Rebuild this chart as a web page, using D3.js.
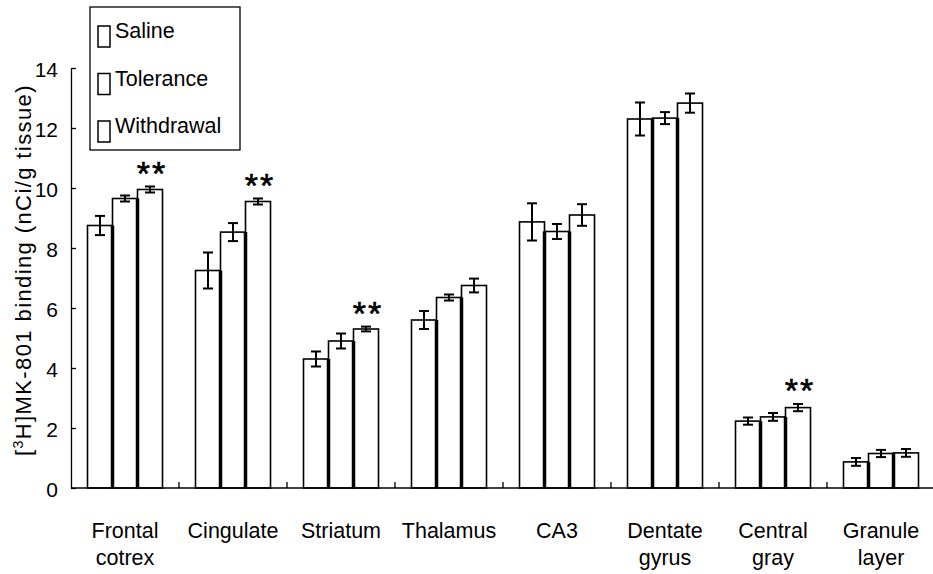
<!DOCTYPE html>
<html>
<head>
<meta charset="utf-8">
<script src="https://cdn.jsdelivr.net/npm/d3@7"></script>
<style>
  body { margin: 0; background: #fff; }
  svg { display: block; font-family: "Liberation Sans", Arial, sans-serif; }
</style>
</head>
<body>
<svg id="chart" width="933" height="574"></svg>
<script>
var categories = ["Frontal cotrex", "Cingulate", "Striatum", "Thalamus", "CA3", "Dentate gyrus", "Central gray", "Granule layer"];
var seriesNames = ["Saline", "Tolerance", "Withdrawal"];

var saline       = [8.75, 7.25, 4.30, 5.60, 8.87, 12.30, 2.23, 0.87];
var salineErr    = [0.32, 0.60, 0.25, 0.30, 0.62, 0.55, 0.12, 0.13];
var tolerance    = [9.65, 8.53, 4.90, 6.35, 8.55, 12.33, 2.37, 1.15];
var toleranceErr = [0.10, 0.30, 0.25, 0.10, 0.25, 0.20, 0.13, 0.12];
var withdrawal   = [9.95, 9.55, 5.30, 6.75, 9.10, 12.83, 2.68, 1.17];
var withdrawalErr = [0.10, 0.10, 0.08, 0.23, 0.36, 0.32, 0.12, 0.13];
// ** = withdrawal significantly different
var significant  = [true, true, true, false, false, false, true, false];

var yTicks = [0, 2, 4, 6, 8, 10, 12, 14];

var values = [saline, tolerance, withdrawal];
var errors = [salineErr, toleranceErr, withdrawalErr];

var svg = d3.select("#chart");

var x0 = d3.scaleBand().domain(categories).range([71, 935]).padding(0);
var x1 = d3.scaleBand().domain(seriesNames).range([0, 75]).padding(0);
var groupOffset = (x0.bandwidth() - 75) / 2;
var y = d3.scaleLinear().domain([0, 14]).range([488, 68]);

var rows = [];
categories.forEach(function(c, i) {
  seriesNames.forEach(function(s, j) {
    rows.push({ cat: c, ser: s, j: j, v: values[j][i], e: errors[j][i], sig: j === 2 && significant[i] });
  });
});

function barX(d) { return x0(d.cat) + groupOffset + x1(d.ser); }

// bars
svg.append("g").selectAll("rect")
  .data(rows).enter()
  .append("rect")
  .attr("x", barX)
  .attr("y", function(d) { return y(d.v); })
  .attr("width", x1.bandwidth())
  .attr("height", function(d) { return y(0) - y(d.v); })
  .attr("fill", "#fff")
  .attr("stroke", "#000")
  .attr("stroke-width", 1.6);

// heavy shared edges between neighbouring bars
svg.append("g").selectAll("line")
  .data(rows.filter(function(d) { return d.j > 0; })).enter()
  .append("line")
  .attr("x1", barX).attr("x2", barX)
  .attr("y1", function(d) { return y(Math.min(d.v, values[d.j - 1][categories.indexOf(d.cat)])); })
  .attr("y2", y(0))
  .attr("stroke", "#000")
  .attr("stroke-width", 3.5);

// error bars
var eb = svg.append("g").attr("stroke", "#000").attr("stroke-width", 2);
rows.forEach(function(d) {
  var cx = barX(d) + x1.bandwidth() / 2;
  eb.append("line").attr("x1", cx).attr("x2", cx).attr("y1", y(d.v - d.e)).attr("y2", y(d.v + d.e));
  eb.append("line").attr("x1", cx - 5).attr("x2", cx + 5).attr("y1", y(d.v - d.e)).attr("y2", y(d.v - d.e));
  eb.append("line").attr("x1", cx - 5).attr("x2", cx + 5).attr("y1", y(d.v + d.e)).attr("y2", y(d.v + d.e));
});

// significance stars
svg.append("g").selectAll("text")
  .data(rows.filter(function(d) { return d.sig; })).enter()
  .append("text")
  .attr("x", function(d) { return barX(d) + x1.bandwidth() / 2 + 2; })
  .attr("y", function(d) { return y(d.v + d.e) - 2; })
  .attr("text-anchor", "middle")
  .attr("font-size", 34)
  .attr("stroke", "#000")
  .attr("stroke-width", 0.6)
  .attr("letter-spacing", 2)
  .text("**");

// y axis
var yAxis = svg.append("g")
  .attr("transform", "translate(71,0)")
  .call(d3.axisLeft(y).tickValues(yTicks).tickFormat(d3.format("d"))
    .tickSizeInner(-5).tickSizeOuter(0).tickPadding(13));
yAxis.select(".domain").attr("stroke-width", 1.3);
yAxis.selectAll(".tick line").attr("stroke-width", 1.3);
yAxis.selectAll(".tick text")
  .attr("font-size", 21)
  .attr("font-family", "Liberation Sans, Arial, sans-serif")
  .attr("fill", "#000")
  .attr("dy", "0.42em");

// x axis baseline and group separators
svg.append("line")
  .attr("x1", 71).attr("x2", 933)
  .attr("y1", y(0)).attr("y2", y(0))
  .attr("stroke", "#000").attr("stroke-width", 1.3);
svg.append("g").selectAll("line")
  .data(categories.slice(1)).enter()
  .append("line")
  .attr("x1", function(d) { return x0(d); }).attr("x2", function(d) { return x0(d); })
  .attr("y1", y(0)).attr("y2", y(0) - 6)
  .attr("stroke", "#000").attr("stroke-width", 1.3);

// category labels
var labels = svg.append("g").selectAll("text")
  .data(categories).enter()
  .append("text")
  .attr("text-anchor", "middle")
  .attr("font-size", 21.5)
  .attr("transform", function(d) { return "translate(" + (x0(d) + x0.bandwidth() / 2) + ",0)"; });
labels.each(function(d) {
  var t = d3.select(this);
  d.split(" ").forEach(function(word, k) {
    t.append("tspan").attr("x", 0).attr("y", 538 + k * 27).text(word);
  });
});

// y axis title
var title = svg.append("text")
  .attr("transform", "translate(31,270) rotate(-90)")
  .attr("text-anchor", "middle")
  .attr("font-size", 22)
  .attr("letter-spacing", 1.4);
title.append("tspan").text("[");
title.append("tspan").attr("font-size", 14).attr("dy", -8).text("3");
title.append("tspan").attr("dy", 8).text("H]MK-801 binding (nCi/g tissue)");

// legend
var legend = svg.append("g");
legend.append("rect")
  .attr("x", 90).attr("y", 7).attr("width", 150).attr("height", 143)
  .attr("fill", "#fff").attr("stroke", "#000").attr("stroke-width", 1.3);
var items = legend.selectAll("g.item")
  .data(seriesNames).enter()
  .append("g")
  .attr("class", "item")
  .attr("transform", function(d, i) { return "translate(0," + (i * 47.5) + ")"; });
items.append("rect")
  .attr("x", 98).attr("y", 26).attr("width", 12).attr("height", 21)
  .attr("fill", "#fff").attr("stroke", "#000").attr("stroke-width", 1.5);
items.append("text")
  .attr("x", 115).attr("y", 38)
  .attr("font-size", 21.5)
  .text(function(d) { return d; });
</script>
</body>
</html>
